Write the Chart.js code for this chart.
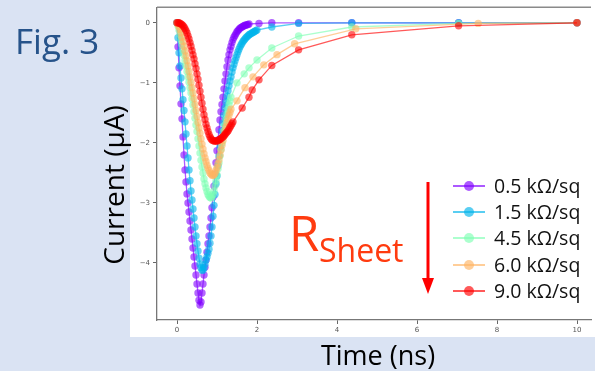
<!DOCTYPE html>
<html>
<head>
<meta charset="utf-8">
<script src="https://cdn.jsdelivr.net/npm/chart.js@4"></script>
<style>
  body { margin: 0; background: #dae3f3; width: 595px; height: 371px; overflow: hidden; position: relative; }
  #panel { position: absolute; left: 130px; top: 0; width: 465px; height: 337px; background: #fff; }
  #wrap { position: absolute; left: 0; top: 0; width: 595px; height: 371px; }
  .lbl { position: absolute; white-space: nowrap; font-family: "Open Sans", sans-serif; }
</style>
</head>
<body>
<div id="panel"></div>
<div id="wrap"><canvas id="myChart"></canvas></div>
<div class="lbl" style="left:15px;top:23px;font-size:35px;line-height:35px;color:#26538a;">Fig. 3</div>
<div class="lbl" style="left:13px;top:170px;width:200px;height:30px;font-size:28px;line-height:30px;text-align:center;color:#000;transform:rotate(-90deg);">Current (μA)</div>
<div class="lbl" style="left:278px;top:341px;width:200px;font-size:27px;line-height:27px;text-align:center;color:#000;">Time (ns)</div>
<div class="lbl" style="left:289px;top:208px;font-size:49px;line-height:49px;color:#ff3b0f;">R</div>
<div class="lbl" style="left:319px;top:234px;font-size:32px;line-height:32px;color:#ff3b0f;">Sheet</div>
<script>
// common fine time grid (ns) used during the pulse
const tFine = [0,0.025,0.05,0.075,0.1,0.125,0.15,0.175,0.2,0.225,0.25,0.275,0.3,0.325,0.35,0.375,0.4,0.425,0.45,0.475,
  0.5,0.525,0.55,0.575,0.6,0.625,0.65,0.675,0.7,0.725,0.75,0.775,0.8,0.825,0.85,0.875,0.9,0.925,0.95,0.975,
  1,1.025,1.05,1.075,1.1,1.125,1.15,1.175,1.2,1.225,1.25,1.275,1.3,1.325,1.35,1.375,1.4,1.425,1.45,1.475,
  1.5,1.525,1.55,1.575,1.6,1.625,1.65,1.675,1.7,1.725,1.75,1.775,1.8,1.825,1.85,1.875,1.9,1.925,1.95,1.975,2];

const seriesNames = ['0.5 kΩ/sq', '1.5 kΩ/sq', '4.5 kΩ/sq', '6.0 kΩ/sq', '9.0 kΩ/sq'];
const seriesColors = ['128,0,255', '0,180,235', '128,255,180', '255,180,98', '255,0,0'];

// 0.5 kOhm/sq
const i05Dense = [0,-0.4,-0.75,-1.05,-1.35,-1.6,-1.9,-2.2,-2.45,-2.65,-2.85,-3.0,-3.15,-3.3,-3.45,-3.6,-3.75,-3.9,-4.05,-4.2,
  -4.35,-4.5,-4.62,-4.7,-4.65,-4.5,-4.35,-4.2,-4.07,-3.95,-3.82,-3.68,-3.55,-3.4,-3.25,-3.08,-2.9,-2.72,-2.52,-2.33,
  -2.13,-1.95,-1.78,-1.62,-1.48,-1.36,-1.24,-1.1,-0.97,-0.85,-0.73,-0.62,-0.53,-0.45,-0.39,-0.33,-0.28,-0.24,-0.21,-0.18,
  -0.15,-0.13,-0.11,-0.09,-0.08,-0.07,-0.06,-0.05,-0.04,-0.04,-0.03,-0.03,-0.02];
const i05TailT = [2.05, 2.37, 3.04, 4.37, 7.04, 10];
const i05TailI = [-0.01, 0, 0, 0, 0, 0];

// 1.5 kOhm/sq
const i15Dense = [0,-0.25,-0.5,-0.72,-0.92,-1.1,-1.28,-1.46,-1.65,-1.85,-2.05,-2.25,-2.45,-2.63,-2.8,-2.95,-3.1,-3.25,-3.4,-3.55,
  -3.68,-3.8,-3.92,-4.02,-4.08,-4.12,-4.12,-4.08,-4.02,-3.95,-3.9,-3.84,-3.77,-3.67,-3.55,-3.4,-3.22,-3.04,-2.86,-2.68,
  -2.55,-2.38,-2.22,-2.07,-1.93,-1.8,-1.67,-1.54,-1.42,-1.32,-1.22,-1.13,-1.05,-0.97,-0.9,-0.82,-0.75,-0.69,-0.63,-0.58,
  -0.53,-0.48,-0.44,-0.4,-0.37,-0.34,-0.31,-0.29,-0.27,-0.25,-0.23,-0.22,-0.2,-0.19,-0.18,-0.17,-0.16,-0.15,-0.14,-0.13,-0.12];
const i15TailT = [2.37, 3.04, 4.37, 7.04, 10];
const i15TailI = [-0.07, -0.01, 0, 0, 0];

// 4.5 kOhm/sq
const i45Dense = [0,-0.05,-0.12,-0.2,-0.28,-0.36,-0.45,-0.54,-0.63,-0.72,-0.81,-0.9,-0.99,-1.08,-1.17,-1.27,-1.37,-1.48,-1.59,-1.7,
  -1.81,-1.93,-2.05,-2.17,-2.29,-2.4,-2.5,-2.6,-2.68,-2.75,-2.81,-2.86,-2.89,-2.91,-2.92,-2.9,-2.86,-2.8,-2.72,-2.63,
  -2.53,-2.43,-2.33,-2.22,-2.11,-2.0,-1.9,-1.8,-1.7,-1.61,-1.52,-1.44,-1.37,-1.3,-1.24];
const i45TailT = [1.5, 1.68, 1.8, 2.0, 2.37, 3.04, 4.37, 7.04, 10];
const i45TailI = [-1.0, -0.85, -0.75, -0.62, -0.42, -0.22, -0.07, -0.01, 0];

// 6.0 kOhm/sq
const i60Dense = [0,-0.02,-0.06,-0.11,-0.17,-0.24,-0.31,-0.39,-0.47,-0.55,-0.63,-0.72,-0.81,-0.9,-0.99,-1.08,-1.17,-1.26,-1.36,-1.46,
  -1.56,-1.66,-1.75,-1.84,-1.93,-2.02,-2.1,-2.18,-2.25,-2.31,-2.37,-2.42,-2.46,-2.5,-2.52,-2.54,-2.54,-2.53,-2.5,-2.46,
  -2.41,-2.35,-2.28,-2.2,-2.12,-2.04,-1.96,-1.88,-1.8,-1.73,-1.66,-1.6,-1.54,-1.49,-1.44];
const i60TailT = [1.5, 1.7, 1.9, 2.17, 2.5, 2.94, 4.47, 7.53, 10];
const i60TailI = [-1.3, -1.08, -0.9, -0.7, -0.53, -0.35, -0.1, -0.01, 0];

// 9.0 kOhm/sq
const i90Dense = [0,0,0,-0.01,-0.02,-0.03,-0.05,-0.07,-0.1,-0.13,-0.17,-0.22,-0.27,-0.33,-0.39,-0.46,-0.53,-0.6,-0.68,-0.76,
  -0.85,-0.94,-1.04,-1.14,-1.24,-1.34,-1.44,-1.53,-1.61,-1.69,-1.75,-1.81,-1.86,-1.9,-1.93,-1.95,-1.96,-1.97,-1.97,-1.97,
  -1.97,-1.96,-1.95,-1.94,-1.93,-1.91,-1.9,-1.88,-1.86,-1.84,-1.82,-1.8,-1.77,-1.74,-1.71,-1.68,-1.65];
const i90TailT = [1.63, 1.8, 1.88, 2.05, 2.37, 3.04, 4.37, 7.04, 10];
const i90TailI = [-1.42, -1.24, -1.12, -0.95, -0.71, -0.45, -0.2, -0.05, 0];

const xTicks = [0, 2, 4, 6, 8, 10];
const yTicks = [-4, -3, -2, -1, 0];

const denseList = [i05Dense, i15Dense, i45Dense, i60Dense, i90Dense];
const tailTList = [i05TailT, i15TailT, i45TailT, i60TailT, i90TailT];
const tailIList = [i05TailI, i15TailI, i45TailI, i60TailI, i90TailI];

function points(k) {
  const a = denseList[k].map((v, i) => ({ x: tFine[i], y: v }));
  const b = tailTList[k].map((t, i) => ({ x: t, y: tailIList[k][i] }));
  return a.concat(b);
}

const datasets = seriesNames.map((name, k) => ({
  label: name,
  data: points(k),
  borderColor: 'rgba(' + seriesColors[k] + ',0.65)',
  backgroundColor: 'rgba(' + seriesColors[k] + ',0.6)',
  pointBackgroundColor: 'rgba(' + seriesColors[k] + ',0.6)',
  borderWidth: 1.3,
  pointRadius: 3.7,
  pointBorderWidth: 0,
  tension: 0,
  order: seriesNames.length - k   // last series drawn on top
}));

const minus = v => (v < 0 ? '\u2212' + Math.abs(v) : String(v));

const extras = {
  id: 'extras',
  afterDraw(chart) {
    const ctx = chart.ctx;
    const a = chart.chartArea;
    ctx.save();
    // top spine
    ctx.strokeStyle = '#8a8a8a';
    ctx.lineWidth = 1.5;
    ctx.beginPath();
    ctx.moveTo(a.left, a.top);
    ctx.lineTo(a.right, a.top);
    ctx.stroke();

    // legend
    const rows = [186, 212, 238, 265, 291];
    ctx.font = '19.5px "Open Sans"';
    ctx.textBaseline = 'alphabetic';
    seriesNames.forEach((name, k) => {
      const y = rows[k];
      ctx.strokeStyle = 'rgba(' + seriesColors[k] + ',0.65)';
      ctx.lineWidth = 2;
      ctx.beginPath();
      ctx.moveTo(453, y);
      ctx.lineTo(485, y);
      ctx.stroke();
      ctx.fillStyle = 'rgba(' + seriesColors[k] + ',0.65)';
      ctx.beginPath();
      ctx.arc(469, y, 5, 0, Math.PI * 2);
      ctx.fill();
      ctx.fillStyle = '#111';
      ctx.fillText(name, 494, y + 7);
    });

    // R_sheet arrow
    ctx.strokeStyle = '#ff0000';
    ctx.fillStyle = '#ff0000';
    ctx.lineWidth = 3;
    ctx.beginPath();
    ctx.moveTo(428, 182);
    ctx.lineTo(428, 280);
    ctx.stroke();
    ctx.beginPath();
    ctx.moveTo(422, 278);
    ctx.lineTo(434, 278);
    ctx.lineTo(428, 294);
    ctx.closePath();
    ctx.fill();
    ctx.restore();
  }
};

const config = {
  type: 'line',
  data: { datasets: datasets },
  options: {
    responsive: true,
    maintainAspectRatio: false,
    animation: false,
    layout: { padding: { top: 7, right: 0, left: 0, bottom: 0 } },
    plugins: { legend: { display: false }, tooltip: { enabled: false } },
    scales: {
      x: {
        type: 'linear',
        min: -0.5,
        max: 10.35,
        afterBuildTicks: axis => { axis.ticks = xTicks.map(v => ({ value: v })); },
        afterFit: scale => { scale.height = 51; },
        grid: { drawOnChartArea: false, tickLength: 4, tickColor: '#666' },
        border: { color: '#777', width: 1.3 },
        ticks: { font: { family: 'DejaVu Sans', size: 7 }, color: '#555', padding: 2, maxRotation: 0 }
      },
      y: {
        min: -4.95,
        max: 0.26,
        afterBuildTicks: axis => { axis.ticks = yTicks.map(v => ({ value: v })); },
        afterFit: scale => { scale.width = 157; },
        grid: { drawOnChartArea: false, tickLength: 4, tickColor: '#666' },
        border: { color: '#777', width: 1.3 },
        ticks: { font: { family: 'DejaVu Sans', size: 7 }, color: '#555', padding: 3, callback: minus }
      }
    }
  },
  plugins: [extras]
};

var ctx = document.getElementById('myChart');
var myChart = new Chart(ctx, config);
</script>
</body>
</html>
